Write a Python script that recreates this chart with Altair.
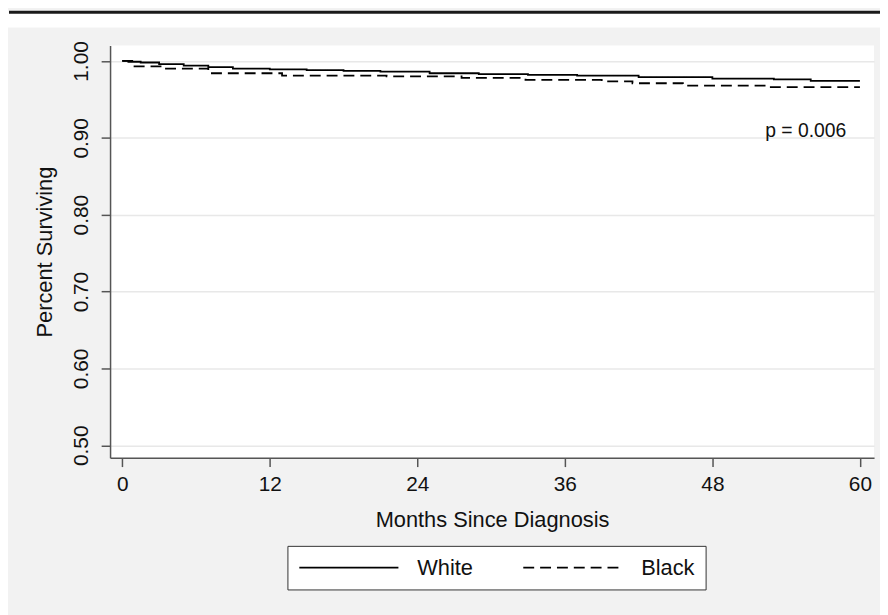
import altair as alt
import pandas as pd

# ---- data ----
white_months = [0, 0.5, 1.5, 3, 5, 7, 9, 12, 15, 18, 21, 25, 29, 33, 37, 42, 48, 53, 56, 60]
white_surv = [1.000, 0.999, 0.998, 0.996, 0.994, 0.992, 0.990, 0.989, 0.988, 0.987, 0.986,
              0.984, 0.983, 0.982, 0.981, 0.979, 0.977, 0.976, 0.974, 0.974]

black_months = [0, 1, 3.2, 7, 13, 21.5, 27.6, 32.8, 39, 41.5, 45.6, 52.6, 60]
black_surv = [1.000, 0.993, 0.990, 0.984, 0.981, 0.980, 0.978, 0.9755, 0.9735, 0.971,
              0.968, 0.966, 0.966]

groups = ["White", "Black"]
x_ticks = [0, 12, 24, 36, 48, 60]
y_ticks = [0.50, 0.60, 0.70, 0.80, 0.90, 1.00]

p_label = ["p = 0.006"]
p_x = [52.3]
p_y = [0.909]

# ---- build tables ----
df = pd.concat([
    pd.DataFrame({"month": white_months, "surv": white_surv, "group": groups[0]}),
    pd.DataFrame({"month": black_months, "surv": black_surv, "group": groups[1]}),
], ignore_index=True)
ann = pd.DataFrame({"label": p_label, "x": p_x, "y": p_y})
one = pd.DataFrame({"k": [0]})

FONT = "Liberation Sans"

xscale = alt.Scale(domain=[-0.99, 61.15], nice=False, zero=False)
yscale = alt.Scale(domain=[0.4839, 1.0202], nice=False, zero=False)

lines = alt.Chart(df).mark_line(interpolate="step-after", color="black", strokeWidth=1.8).encode(
    x=alt.X("month:Q", scale=xscale,
            axis=alt.Axis(values=x_ticks, title="Months Since Diagnosis", grid=False,
                          labelFontSize=21, titleFontSize=22, labelPadding=7,
                          titlePadding=15, tickSize=9, labelColor="#111",
                          titleColor="#111", titleFontWeight="normal",
                          domainColor="#555", tickColor="#555", domainWidth=1.5,
                          tickWidth=1.5)),
    y=alt.Y("surv:Q", scale=yscale,
            axis=alt.Axis(values=y_ticks, format=".2f", title="Percent Surviving",
                          grid=True, gridColor="#e8e8e8", gridWidth=1.5,
                          labelAngle=-90, labelAlign="center", labelBaseline="bottom",
                          labelFontSize=21, titleFontSize=22, labelPadding=10,
                          titlePadding=14, tickSize=9, labelColor="#111",
                          titleColor="#111", titleFontWeight="normal",
                          domainColor="#555", tickColor="#555", domainWidth=1.5,
                          tickWidth=1.5)),
    strokeDash=alt.StrokeDash("group:N",
                              scale=alt.Scale(domain=groups, range=[[1, 0], [11, 6]]),
                              legend=alt.Legend(orient="none", legendX=179, legendY=505,
                                                direction="horizontal", title=None,
                                                symbolType="M-2,0H18", symbolSize=100,
                                                symbolStrokeWidth=1.6,
                                                symbolStrokeColor="black",
                                                symbolFillColor="transparent",
                                                labelFontSize=22, labelFont=FONT,
                                                labelColor="#111", labelOffset=98,
                                                columnPadding=46, padding=11,
                                                strokeColor="#333", fillColor="white")),
)

ptext = alt.Chart(ann).mark_text(align="left", baseline="middle", fontSize=19.5,
                                 font=FONT, color="#111").encode(
    x=alt.X("x:Q", scale=xscale), y=alt.Y("y:Q", scale=yscale), text="label:N")

top_strip = alt.Chart(one).mark_rect(color="white").encode(
    x=alt.value(-103), x2=alt.value(777), y=alt.value(-35), y2=alt.value(-18))
top_bar = alt.Chart(one).mark_rect(color="#1a1a1a").encode(
    x=alt.value(-102), x2=alt.value(777), y=alt.value(-35), y2=alt.value(-32))

chart = alt.layer(top_strip, top_bar, lines, ptext).properties(
    width=771, height=416,
    autosize=alt.AutoSizeParams(type="none"),
    padding={"left": 103, "top": 35, "right": 6, "bottom": 156},
    background="#f2f2f2",
).configure_view(fill="white", stroke=None).configure_axis(
    labelFont=FONT, titleFont=FONT
)

chart.save("out.html", embed_options={"renderer": "svg", "actions": False})
